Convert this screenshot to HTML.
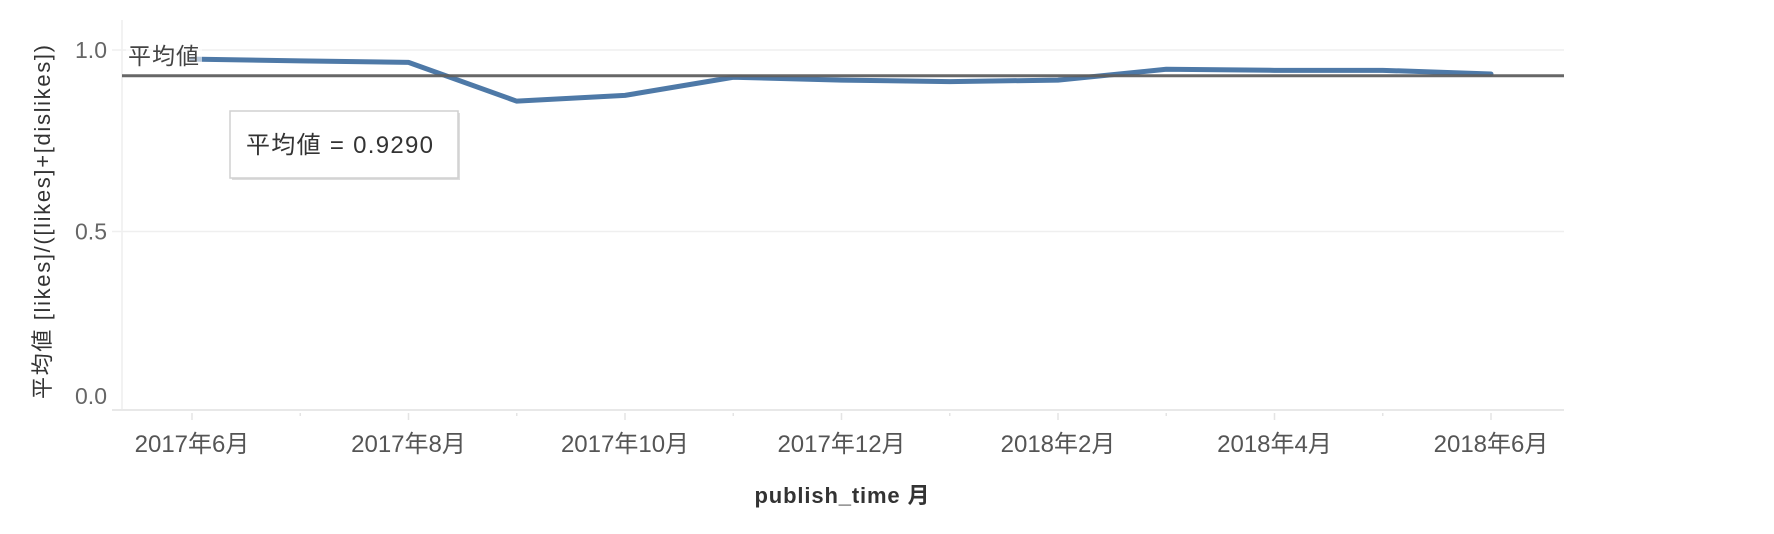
<!DOCTYPE html>
<html><head><meta charset="utf-8"><style>
html,body{margin:0;padding:0;background:#fff;}
svg{display:block;font-family:"Liberation Sans","Noto Sans CJK JP",sans-serif;}
</style></head><body>
<svg id="chart" width="1774" height="534">
</svg>
<script>
const months = ["2017-06","2017-07","2017-08","2017-09","2017-10","2017-11","2017-12","2018-01","2018-02","2018-03","2018-04","2018-05","2018-06"];
const ratioValues = [0.975,0.970,0.966,0.859,0.875,0.925,0.917,0.913,0.917,0.947,0.944,0.944,0.934];
const tickLabels = ["2017年6月","","2017年8月","","2017年10月","","2017年12月","","2018年2月","","2018年4月","","2018年6月"];
const yTicks = [0, 0.5, 1.0];
const yTickLabels = ["0.0","0.5","1.0"];
const meanValue = 0.9290;

const NS="http://www.w3.org/2000/svg";
const svg=document.getElementById('chart');
const plotL=122, plotR=1564, y0=413, y1=50;
const xS=i=>192+i*108.25;
const yS=v=>y0-(y0-y1)*v;
function mk(t,a,p){const e=document.createElementNS(NS,t);for(const k in a)e.setAttribute(k,a[k]);(p||svg).appendChild(e);return e;}

let ax=mk('line',{x1:plotL,x2:plotL,y1:20,y2:410,stroke:'#eeeeee','stroke-width':1.5});



const xa=mk('line',{x1:112,x2:plotR,y1:410,y2:410,stroke:'#e8e8e8','stroke-width':2});



yTicks.forEach((v,i)=>{
  if(v!==0){
    const g=mk('line',{x1:112,x2:plotR,y1:yS(v),y2:yS(v),stroke:'#efefef','stroke-width':1.5});
    
    
  }
  const t=mk('text',{x:107,y:(v===0?404:yS(v)+8),'text-anchor':'end','font-size':23,fill:'#666'});
  t.textContent=yTickLabels[i];
  
  
});

months.forEach((m,i)=>{
  const major=tickLabels[i]!=="";
  const tk=mk('line',{x1:xS(i),x2:xS(i),y1:413,y2:major?420:416,stroke:'#e4e4e4','stroke-width':1.5});
  
  
  if(major){
    const t=mk('text',{x:xS(i),y:452,'text-anchor':'middle','font-size':24,fill:'#555'});
    t.textContent=tickLabels[i];
    
    
  }
});

const pts=ratioValues.map((v,i)=>xS(i)+','+yS(v)).join(' ');
const ln=mk('polyline',{points:pts,fill:'none',stroke:'#4e79a7','stroke-width':5,'stroke-linejoin':'round','stroke-linecap':'round'});



const ml=mk('line',{x1:plotL,x2:plotR,y1:yS(meanValue),y2:yS(meanValue),stroke:'#5f5f5f','stroke-width':3,opacity:0.95});



const bg=mk('rect',{x:126,y:40,width:76,height:28,fill:'#fff',opacity:0.6});


const mlab=mk('text',{x:128,y:64,'font-size':23,fill:'#444',textLength:71});
mlab.textContent='平均値';



const sh=mk('rect',{x:232,y:113,width:228,height:67,fill:'#ddd'});


const box=mk('rect',{x:230,y:111,width:228,height:67,fill:'#fff',stroke:'#d0d0d0','stroke-width':1.5});


const bt=mk('text',{x:246,y:153,'font-size':24,fill:'#333',textLength:187});
bt.textContent='平均値 = '+meanValue.toFixed(4);



const yt=mk('text',{x:0,y:0,'text-anchor':'middle','font-size':22,fill:'#333',textLength:354,transform:'translate(50,222) rotate(-90)'});
yt.textContent='平均値 [likes]/([likes]+[dislikes])';


const xt=mk('text',{x:842,y:503,'text-anchor':'middle','font-size':22,fill:'#333','font-weight':'bold',textLength:175});
xt.textContent='publish_time 月';


</script>
</body></html>
